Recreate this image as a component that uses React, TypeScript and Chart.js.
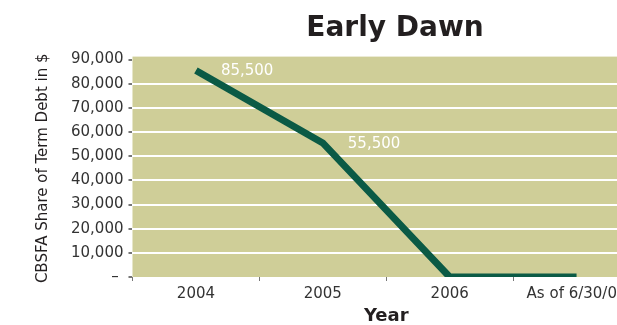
import React, { useEffect, useRef } from "react";
import { Chart, registerables } from "chart.js";

Chart.register(...registerables);

const categories = ["2004", "2005", "2006", "As of 6/30/07"];
const debtValues = [85500, 55500, 0, 0];
const yTickValues = [0, 10000, 20000, 30000, 40000, 50000, 60000, 70000, 80000, 90000];
const chartTitle = "Early Dawn";
const xTitle = "Year";
const yTitle = "CBSFA Share of Term Debt in $";

const FONT = "'DejaVu Sans', Verdana, sans-serif";
const fmt = (v: number) => v.toLocaleString("en-US");

export default function App() {
  const ref = useRef<HTMLCanvasElement | null>(null);

  useEffect(() => {
    document.body.style.margin = "0";
    document.body.style.overflow = "hidden";
    const canvas = ref.current;
    if (!canvas) return;

    const bgPlugin = {
      id: "plotBg",
      beforeDraw(chart: any) {
        const { ctx, chartArea } = chart;
        ctx.save();
        ctx.fillStyle = "#cfce98";
        ctx.fillRect(chartArea.left, chartArea.top - 3, chartArea.right - chartArea.left, chartArea.bottom - chartArea.top + 3);
        ctx.restore();
      },
    };

    const labelPlugin = {
      id: "valueLabels",
      afterDatasetsDraw(chart: any) {
        const { ctx } = chart;
        const meta = chart.getDatasetMeta(0);
        ctx.save();
        ctx.fillStyle = "#ffffff";
        ctx.font = `15px ${FONT}`;
        ctx.textAlign = "left";
        ctx.textBaseline = "middle";
        meta.data.forEach((pt: any, i: number) => {
          const v = debtValues[i];
          if (v > 0) ctx.fillText(fmt(v), pt.x + 25, pt.y + 1);
        });
        ctx.restore();
      },
    };

    const chart = new Chart(canvas, {
      type: "line",
      data: {
        labels: categories,
        datasets: [
          {
            data: debtValues,
            borderColor: "#0b5a45",
            borderWidth: 7,
            pointRadius: 0,
            tension: 0,
            fill: false,
            yAxisID: "y",
          },
        ],
      },
      options: {
        responsive: false,
        animation: false,
        layout: { padding: { top: 12, left: 0, right: 0, bottom: 0 } },
        plugins: {
          legend: { display: false },
          tooltip: { enabled: false },
          title: {
            display: true,
            text: chartTitle,
            color: "#231f20",
            font: { family: FONT, size: 28, weight: "bold", lineHeight: 1.2 },
            padding: { top: 0, bottom: 14 },
          },
        },
        scales: {
          x: {
            offset: true,
            border: { display: false },
            grid: {
              display: true,
              drawOnChartArea: false,
              drawTicks: true,
              tickLength: 4,
              offset: true,
              tickColor: "#777",
            },
            ticks: {
              color: "#333",
              padding: 4,
              maxRotation: 0,
              autoSkip: false,
              font: { family: FONT, size: 15 },
            },
            title: {
              display: true,
              text: xTitle,
              color: "#231f20",
              font: { family: FONT, size: 18, weight: "bold", lineHeight: 1 },
              padding: { top: 0, bottom: 0 },
            },
          },
          y: {
            min: 0,
            max: 90000,
            border: { display: false },
            afterBuildTicks(axis: any) {
              axis.ticks = yTickValues.map((v) => ({ value: v }));
            },
            grid: {
              drawTicks: true,
              tickLength: 4,
              tickColor: "#777",
              lineWidth: 2,
              color: (c: any) => {
                const v = c.tick ? c.tick.value : 0;
                return v === 0 || v === 90000 ? "rgba(0,0,0,0)" : "#ffffff";
              },
            },
            ticks: {
              color: "#333",
              padding: 5,
              font: { family: FONT, size: 15 },
              callback: (v: any) => (Number(v) === 0 ? "– " : fmt(Number(v))),
            },
            title: {
              display: true,
              text: yTitle,
              color: "#231f20",
              font: { family: FONT, size: 15, lineHeight: 1.2 },
              padding: { top: 34, bottom: 14 },
            },
          },
          yRightSpace: {
            position: "right",
            display: true,
            border: { display: false },
            grid: { display: false, drawTicks: false },
            ticks: { display: false },
            afterFit(scale: any) {
              scale.width = 150;
            },
          },
        },
      },
      plugins: [bgPlugin, labelPlugin],
    });

    return () => chart.destroy();
  }, []);

  return (
    <div style={{ width: 617, height: 325, overflow: "hidden", position: "relative" }}>
      <canvas ref={ref} width={790} height={325} style={{ display: "block", width: 790, height: 325 }} />
    </div>
  );
}
